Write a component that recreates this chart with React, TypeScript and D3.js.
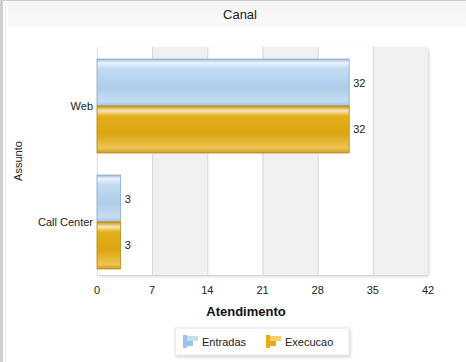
import React from "react";
import * as d3 from "d3";

const categories = ["Web", "Call Center"];
const seriesNames = ["Entradas", "Execucao"];
const entradas = [32, 3];
const execucao = [32, 3];
const xTicks = [0, 7, 14, 21, 28, 35, 42];

const W = 466;
const H = 362;
const M = { left: 97, right: 38, top: 47, bottom: 87 };

export default function App() {
  const x = d3.scaleLinear().domain([0, 42]).range([M.left, W - M.right]);
  const y = d3
    .scaleBand<string>()
    .domain(categories)
    .range([M.top + 6, H - M.bottom])
    .paddingInner(0.19)
    .paddingOuter(0.052);
  const sub = d3.scaleBand<string>().domain(seriesNames).range([0, y.bandwidth()]);
  const series = [entradas, execucao];
  const fills = ["url(#gBlue)", "url(#gGold)"];
  const strokes = ["#8aa9c6", "#b88a10"];
  const plotTop = M.top;
  const plotBottom = H - M.bottom;
  const font = "Liberation Sans, Arial, sans-serif";

  return (
    <svg
      width={W}
      height={H}
      style={{ position: "absolute", left: 0, top: 0, background: "#fff" }}
      fontFamily={font}
    >
      <defs>
        <linearGradient id="gBlue" x1="0" y1="0" x2="0" y2="1">
          <stop offset="0" stopColor="#9dbad6" />
          <stop offset="0.08" stopColor="#e9f3fc" />
          <stop offset="0.2" stopColor="#c3dcf2" />
          <stop offset="0.6" stopColor="#aecde9" />
          <stop offset="0.9" stopColor="#c4dcf1" />
          <stop offset="1" stopColor="#a5c2dd" />
        </linearGradient>
        <linearGradient id="gGold" x1="0" y1="0" x2="0" y2="1">
          <stop offset="0" stopColor="#c99412" />
          <stop offset="0.1" stopColor="#f6e6b4" />
          <stop offset="0.22" stopColor="#e4ae1a" />
          <stop offset="0.6" stopColor="#dca512" />
          <stop offset="0.9" stopColor="#eec555" />
          <stop offset="1" stopColor="#c99a22" />
        </linearGradient>
        <linearGradient id="hdr" x1="0" y1="0" x2="0" y2="1">
          <stop offset="0" stopColor="#f4f4f4" />
          <stop offset="1" stopColor="#f9f9f9" />
        </linearGradient>
        <filter id="sh" x="-10%" y="-10%" width="130%" height="140%">
          <feDropShadow dx="1" dy="1.5" stdDeviation="1.5" floodColor="#000" floodOpacity="0.18" />
        </filter>
      </defs>

      {/* frame */}
      <rect x={0} y={0} width={W} height={H} fill="#fff" />
      <rect x={8} y={1} width={W - 8} height={26} fill="url(#hdr)" />
      <line x1={0} y1={0.5} x2={W} y2={0.5} stroke="#c8c8c8" />
      <rect x={0} y={0} width={3} height={H} fill="#d0d0d0" />
      <line x1={5.5} y1={0} x2={5.5} y2={H} stroke="#eeeeee" />
      <text x={240} y={19} textAnchor="middle" fontSize={13} fill="#222">
        Canal
      </text>

      {/* plot background bands */}
      <rect
        x={x(0)}
        y={plotTop}
        width={x(42) - x(0)}
        height={plotBottom - plotTop}
        fill="#fff"
        filter="url(#sh)"
        rx={3}
      />
      {xTicks.slice(0, -1).map((t, i) =>
        i % 2 === 1 ? (
          <rect
            key={"b" + t}
            x={x(t)}
            y={plotTop}
            width={x(xTicks[i + 1]) - x(t)}
            height={plotBottom - plotTop}
            fill="#f0f0f0"
          />
        ) : null
      )}
      {xTicks.slice(1, -1).map((t) => (
        <line
          key={"g" + t}
          x1={x(t) + 0.5}
          x2={x(t) + 0.5}
          y1={plotTop}
          y2={plotBottom}
          stroke="#d6d6d6"
        />
      ))}
      <line x1={x(0)} x2={x(42)} y1={plotBottom + 0.5} y2={plotBottom + 0.5} stroke="#d8d8d8" />
      <line x1={x(0) + 0.5} x2={x(0) + 0.5} y1={plotTop} y2={plotBottom} stroke="#e2e2e2" />

      {/* bars */}
      {categories.map((c, ci) =>
        series.map((vals, si) => {
          const by = (y(c) as number) + (sub(seriesNames[si]) as number);
          const bh = sub.bandwidth();
          return (
            <g key={c + si}>
              <rect
                x={x(0)}
                y={by}
                width={x(vals[ci]) - x(0)}
                height={bh}
                fill={fills[si]}
                stroke={strokes[si]}
                strokeWidth={0.8}
              />
              <text x={x(vals[ci]) + 4} y={by + bh / 2 + 4} fontSize={11} fill="#222">
                {vals[ci]}
              </text>
            </g>
          );
        })
      )}

      {/* category labels */}
      {categories.map((c) => (
        <text
          key={c}
          x={x(0) - 4}
          y={(y(c) as number) + y.bandwidth() / 2 + 4}
          textAnchor="end"
          fontSize={11}
          fill="#222"
        >
          {c}
        </text>
      ))}

      {/* x tick labels */}
      {xTicks.map((t) => (
        <text key={t} x={x(t)} y={294} textAnchor="middle" fontSize={11} fill="#222">
          {t}
        </text>
      ))}

      <text x={246} y={316} textAnchor="middle" fontSize={13} fontWeight="bold" fill="#111">
        Atendimento
      </text>
      <text
        transform={`translate(22,${161}) rotate(-90)`}
        textAnchor="middle"
        fontSize={11}
        fill="#222"
      >
        Assunto
      </text>

      {/* legend */}
      <rect x={175} y={328} width={174} height={27} fill="#fff" stroke="#e4e4e4" filter="url(#sh)" />
      {seriesNames.map((s, i) => {
        const lx = [183, 266][i];
        const colA = ["#9cc3ea", "#e8ac14"][i];
        const colB = ["#c7ddf2", "#f4d060"][i];
        return (
          <g key={s}>
            <rect x={lx} y={335} width={4} height={13} fill={colA} />
            <rect x={lx + 4} y={336} width={11} height={5} fill={colB} />
            <rect x={lx + 4} y={341} width={6} height={5} fill={colA} />
            <text x={lx + 19} y={346} fontSize={11} fill="#222">
              {s}
            </text>
          </g>
        );
      })}
    </svg>
  );
}
